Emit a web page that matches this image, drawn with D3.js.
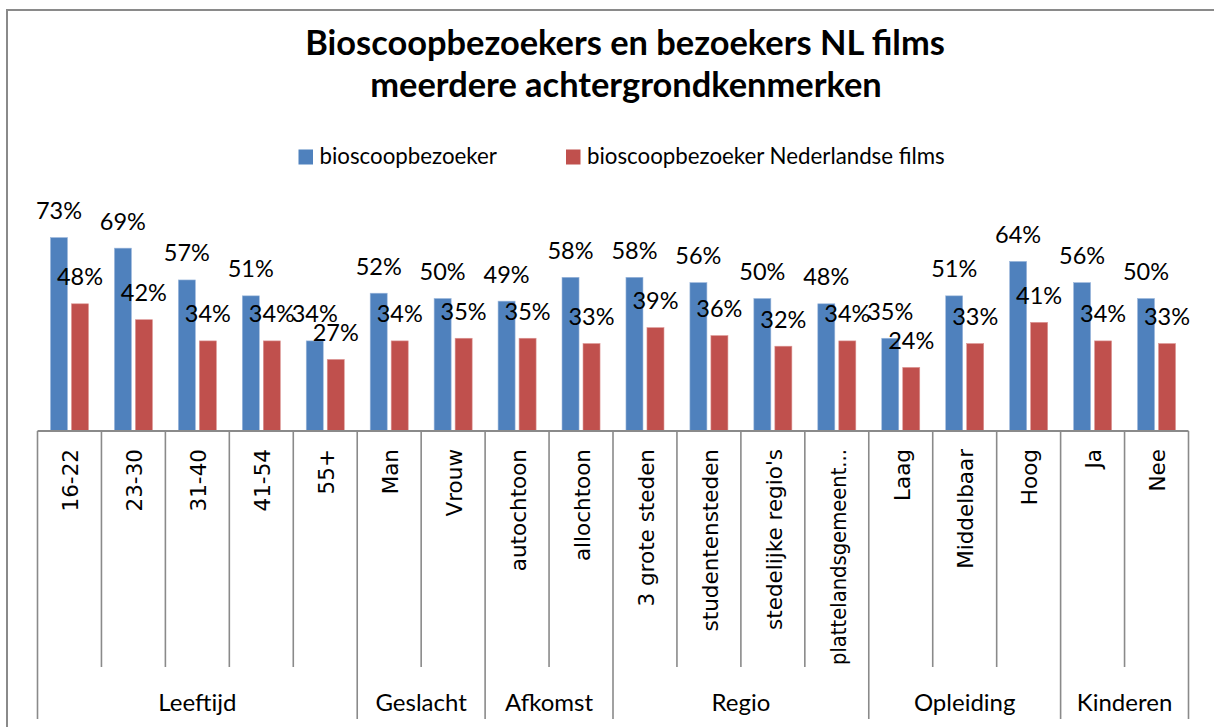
<!DOCTYPE html>
<html><head><meta charset="utf-8">
<script src="https://cdn.jsdelivr.net/npm/d3@7"></script>
<style>
body{margin:0;background:#fff}
svg{display:block}
text{font-family:Lato,"Open Sans","DejaVu Sans",sans-serif;fill:#000}
</style>
</head><body>
<svg id="chart" width="1214" height="727"></svg>
<script>
// ---- data ----
const titleLines = ["Bioscoopbezoekers en bezoekers NL films", "meerdere achtergrondkenmerken"];
const seriesNames = ["bioscoopbezoeker", "bioscoopbezoeker Nederlandse films"];
const categories = ["16-22","23-30","31-40","41-54","55+","Man","Vrouw","autochtoon","allochtoon",
  "3 grote steden","studentensteden","stedelijke regio's","plattelandsgemeent...","Laag","Middelbaar","Hoog","Ja","Nee"];
const groupNames = ["Leeftijd","Geslacht","Afkomst","Regio","Opleiding","Kinderen"];
const groupSizes = [5, 2, 2, 4, 3, 2];
const bezoeker   = [0.73,0.69,0.57,0.51,0.34,0.52,0.50,0.49,0.58,0.58,0.56,0.50,0.48,0.35,0.51,0.64,0.56,0.50];
const nlFilms    = [0.48,0.42,0.34,0.34,0.27,0.34,0.35,0.35,0.33,0.39,0.36,0.32,0.34,0.24,0.33,0.41,0.34,0.33];
const colors = ["#4F81BD", "#C0504D"];

// ---- layout ----
const svg = d3.select("#chart");
const W = 1214, H = 727;
const axisY = 431;
const x = d3.scaleBand().domain(categories).range([37.5, 1188.5]).paddingInner(0).paddingOuter(0);
const x1 = d3.scaleBand().domain([0,1]).range([0, x.bandwidth()]).paddingInner(0.19).paddingOuter(0.617);
const y = d3.scaleLinear().domain([0, 0.8]).range([axisY, 219]);
const series = [bezoeker, nlFilms];

function fitSize(sel, base, target) {
  sel.style("font-size", base + "px");
  const w = sel.node().getComputedTextLength();
  const s = base * target / w;
  sel.style("font-size", s + "px");
  return s;
}

// chart border
svg.append("path").attr("d", `M7,${H+5}V10H${W+5}`).attr("fill","none").attr("stroke","#8a8a8a").attr("stroke-width",2);

// title
const t1 = svg.append("text").attr("x", 625).attr("y", 55).attr("text-anchor","middle")
  .style("font-weight","bold").text(titleLines[0]);
const ts = fitSize(t1, 32, 640);
svg.append("text").attr("x", 626).attr("y", 97).attr("text-anchor","middle")
  .style("font-weight","bold").style("font-size", ts + "px").text(titleLines[1]);

// legend
const legX = [298.5, 566];
const legs = seriesNames.map((n, i) => {
  svg.append("rect").attr("x", legX[i]).attr("y", 149.5).attr("width", 14.5).attr("height", 15).attr("fill", colors[i]);
  return svg.append("text").attr("x", legX[i] + 21).attr("y", 164).text(n);
});
const ls = fitSize(legs[1], 24, 358);
legs[0].style("font-size", ls + "px");

// bars
series.forEach((vals, s) => {
  svg.append("g").selectAll("rect").data(vals).join("rect")
    .attr("x", (d, i) => x(categories[i]) + x1(s))
    .attr("y", d => y(d))
    .attr("width", x1.bandwidth())
    .attr("height", d => axisY - y(d))
    .attr("fill", colors[s])
    .attr("stroke", s === 0 ? "#9db8dc" : "#dc9694").attr("stroke-width", 0.6);
});

// data labels
series.forEach((vals, s) => {
  svg.append("g").selectAll("text").data(vals).join("text")
    .attr("x", (d, i) => x(categories[i]) + x1(s) + x1.bandwidth() / 2)
    .attr("y", d => y(d) - 18.5)
    .attr("text-anchor", "middle")
    .style("font-size", "23.5px")
    .text(d => d3.format(".0%")(d));
});

// category axis
const x0 = x.range()[0], step = x.step();
svg.append("line").attr("x1", x0).attr("x2", x.range()[1]).attr("y1", axisY).attr("y2", axisY)
  .attr("stroke", "#8a8a8a").attr("stroke-width", 2);
const bounds = d3.range(categories.length + 1);
const groupBounds = new Set([0, ...d3.cumsum(groupSizes)]);
svg.append("g").selectAll("line").data(bounds).join("line")
  .attr("x1", i => x0 + i * step).attr("x2", i => x0 + i * step)
  .attr("y1", axisY).attr("y2", i => groupBounds.has(i) ? 719 : 667)
  .attr("stroke", "#8a8a8a").attr("stroke-width", 1.6);

const labelTop = 449, labelMax = 216;
svg.append("g").selectAll("text").data(categories).join("text")
  .attr("transform", c => `translate(${x(c) + x.bandwidth() / 2 + 1},${labelTop}) rotate(-90)`)
  .attr("text-anchor", "end").attr("dy", "0.36em")
  .style("font-family", "'DejaVu Sans', Verdana, sans-serif")
  .style("font-size", "21.5px")
  .text(c => c)
  .each(function() {
    if (this.getComputedTextLength() > labelMax) {
      d3.select(this).attr("textLength", labelMax).attr("lengthAdjust", "spacingAndGlyphs");
    }
  });

// group labels
const cum = [0, ...d3.cumsum(groupSizes)];
svg.append("g").selectAll("text").data(groupNames).join("text")
  .attr("x", (g, i) => x0 + (cum[i] + cum[i + 1]) / 2 * step)
  .attr("y", 711).attr("text-anchor", "middle")
  .style("font-size", "24px")
  .text(g => g);
</script>
</body></html>
